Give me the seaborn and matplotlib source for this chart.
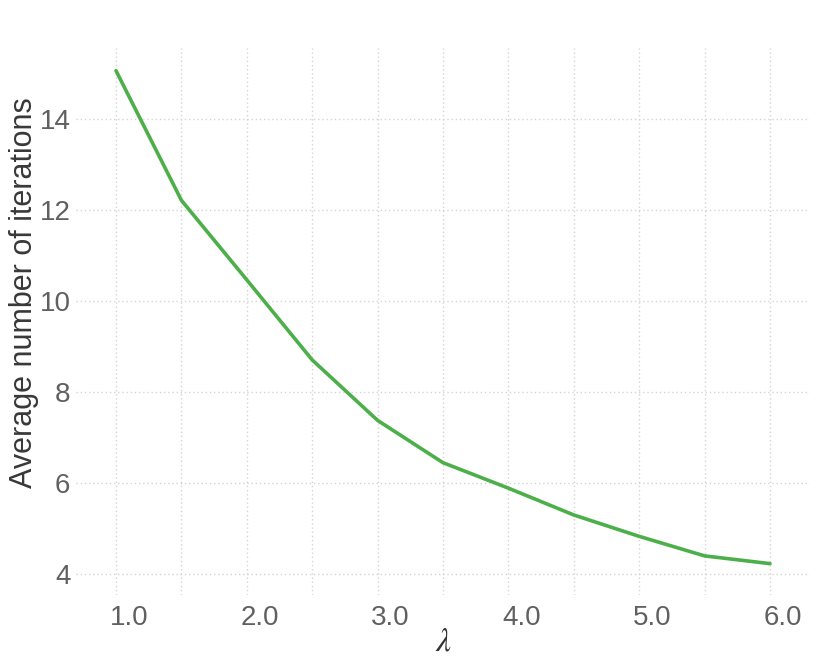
import matplotlib
matplotlib.use("Agg")
import matplotlib.pyplot as plt
import matplotlib.transforms as mtransforms
import seaborn as sns
import pandas as pd

# data
lam = [1.0, 1.5, 2.0, 2.5, 3.0, 3.5, 4.0, 4.5, 5.0, 5.5, 6.0]
avg_iters = [15.07, 12.22, 10.47, 8.71, 7.38, 6.45, 5.89, 5.30, 4.83, 4.40, 4.23]
x_ticks = [1.0, 1.5, 2.0, 2.5, 3.0, 3.5, 4.0, 4.5, 5.0, 5.5, 6.0]
x_tick_labels = ["1.0", "", "2.0", "", "3.0", "", "4.0", "", "5.0", "", "6.0"]
y_ticks = [4, 6, 8, 10, 12, 14]

sns.set_style("white")
plt.rcParams["font.family"] = ["Liberation Sans", "DejaVu Sans"]
plt.rcParams["mathtext.fontset"] = "stix"

df = pd.DataFrame({"lam": lam, "iters": avg_iters})

fig = plt.figure(figsize=(8.31, 6.65), dpi=100)
ax = fig.add_axes([76 / 831, 1 - 595 / 665, (810 - 76) / 831, (595 - 48) / 665])

sns.lineplot(data=df, x="lam", y="iters", ax=ax, color="#4daf4a", linewidth=2.6)

ax.set_xlim(0.694, 6.306)
ax.set_ylim(3.54, 15.57)
ax.set_xticks(x_ticks)
ax.set_xticklabels(x_tick_labels)
ax.set_yticks(y_ticks)
ax.set_yticklabels([str(v) for v in y_ticks])

for s in ax.spines.values():
    s.set_visible(False)

ax.grid(True, color="#d4d4d4", linestyle=(0, (1, 2)), linewidth=1.0)
ax.tick_params(axis="both", length=0, labelsize=20, labelcolor="#606060")
ax.tick_params(axis="x", pad=7)
ax.tick_params(axis="y", pad=4)

offset = mtransforms.ScaledTranslation(13 / 100, 0, fig.dpi_scale_trans)
for lbl in ax.get_xticklabels():
    lbl.set_transform(lbl.get_transform() + offset)

ax.set_xlabel(r"$\lambda$", fontsize=24, color="#333333")
ax.set_ylabel("Average number of iterations", fontsize=22, color="#383838")
ax.xaxis.set_label_coords(0.5, -0.058)
ax.yaxis.set_label_coords(-0.051, 0.552)

fig.savefig("out.png", dpi=100)
